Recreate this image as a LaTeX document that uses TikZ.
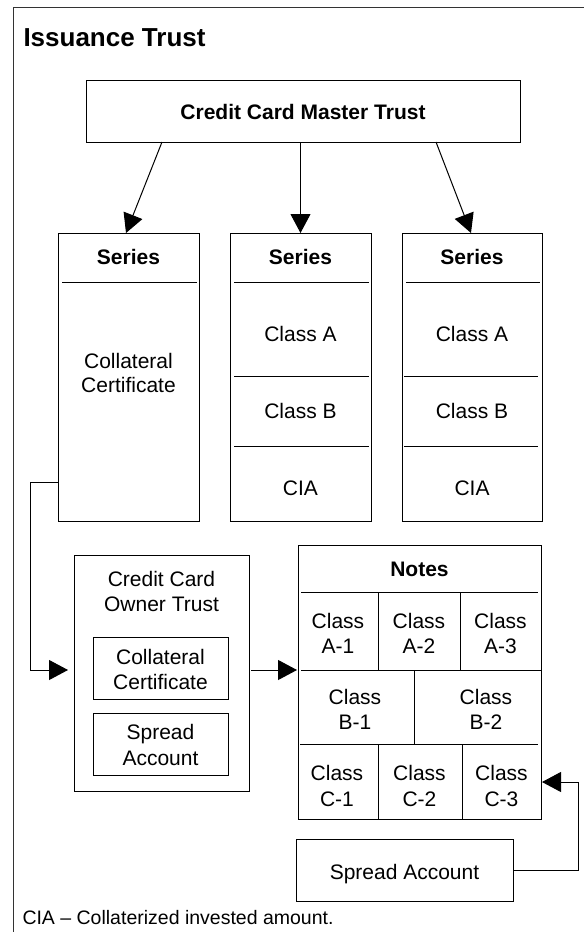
\documentclass[tikz,border=0pt]{standalone}
\usepackage{fontspec}
\setmainfont{Liberation Sans}
\usetikzlibrary{arrows.meta,fit}
\begin{document}
\begin{tikzpicture}[x=1pt,y=-1pt,line width=1pt,
  box/.style={draw,inner sep=0pt,outer sep=0pt},
  txt/.style={anchor=base,inner sep=0pt,font=\fontsize{21}{25}\selectfont},
  btxt/.style={anchor=base,inner sep=0pt,font=\fontsize{21}{25}\selectfont\bfseries},
  arr/.style={-{Triangle[length=19pt,width=20pt]}}]
\useasboundingbox (0,0) rectangle (584,932);
% frame
\draw[line width=1.2pt,black!80] (13.5,932) -- (13.5,7.5) -- (584,7.5);
\node[anchor=base west,inner sep=0pt,font=\fontsize{26}{30}\selectfont\bfseries] (title) at (23,46) {Issuance Trust};
% master trust
\node[box,fit={(86,80) (520,142)}] (master) {};
\node[btxt] (tmaster) at (303,119) {Credit Card Master Trust};
% series boxes
\node[box,fit={(58,233) (199,521)}] (s1) {};
\node[box,fit={(230,233) (371,521)}] (s2) {};
\node[box,fit={(402,233) (542,521)}] (s3) {};
\foreach \n/\x in {s1/128.5,s2/300.5,s3/472}{
  \node[btxt] (\n-h) at (\x,264) {Series};
}
\draw (62,282) -- (197,282);
\draw (234,282) -- (369,282);
\draw (406,282) -- (540,282);
\node[txt] (s1-a) at (128.5,368) {Collateral};
\node[txt] (s1-b) at (128.5,392) {Certificate};
\foreach \n/\x/\l/\r in {s2/300.5/234/369,s3/472/404/538}{
  \node[txt] (\n-ca) at (\x,341) {Class A};
  \draw (\l,376) -- (\r,376);
  \node[txt] (\n-cb) at (\x,418) {Class B};
  \draw (\l,446) -- (\r,446);
  \node[txt] (\n-cia) at (\x,495) {CIA};
}
% arrows from master
\draw[arr] ([xshift=76pt]master.south west) -- ([xshift=68pt]s1.north west);
\draw[arr] (s2.north |- master.south) -- (s2.north);
\draw[arr] ([xshift=350pt]master.south west) -- ([xshift=69pt]s3.north west);
% owner trust
\node[box,fit={(74,555) (249,791)}] (owner) {};
\node[txt] (ow-a) at (161.5,586) {Credit Card};
\node[txt] (ow-b) at (161.5,611) {Owner Trust};
\node[box,fit={(93,637) (228,699)}] (occ) {};
\node[txt] (occ-a) at (160.5,664) {Collateral};
\node[txt] (occ-b) at (160.5,689) {Certificate};
\node[box,fit={(93,713) (228,775)}] (osa) {};
\node[txt] (osa-a) at (160.5,739) {Spread};
\node[txt] (osa-b) at (160.5,765) {Account};
% notes
\node[box,fit={(298,545) (541,819)}] (notes) {};
\node[btxt] (notes-h) at (419.5,576) {Notes};
\draw (301,592) -- (538,592);
\draw (301,670) -- (541,670);
\draw (300,744) -- (538,744);
\draw (378,592) -- (378,670);
\draw (460,592) -- (460,670);
\draw (414,670) -- (414,744);
\draw (378,744) -- (378,819);
\draw (462,744) -- (462,819);
\foreach \n/\x/\lab in {a1/338/A-1,a2/419/A-2,a3/500.5/A-3}{
  \node[txt] (\n-c) at (\x,628) {Class};
  \node[txt] (\n-l) at (\x,653) {\lab};
}
\foreach \n/\x/\lab in {b1/355/B-1,b2/486/B-2}{
  \node[txt] (\n-c) at (\x,704) {Class};
  \node[txt] (\n-l) at (\x,729) {\lab};
}
\foreach \n/\x/\lab in {c1/337/C-1,c2/419.5/C-2,c3/501.5/C-3}{
  \node[txt] (\n-c) at (\x,780) {Class};
  \node[txt] (\n-l) at (\x,806) {\lab};
}
\coordinate (c3in) at (542,782);
\coordinate (ownin) at (68,670);
% spread account
\node[box,fit={(296,839) (513,901)}] (sa) {};
\node[txt] (sa-t) at (404.5,879) {Spread Account};
% connectors
\draw[arr] ([yshift=-105pt]s1.west) -- ++(-28pt,0) |- (ownin);
\draw[arr] ([xshift=2pt]owner.east |- ownin) -- ([xshift=-1pt]notes.west |- ownin);
\draw[arr] (sa.east) -- ++(65pt,0) |- (c3in);
% footnote
\node[anchor=base west,inner sep=0pt,font=\fontsize{19.5}{23}\selectfont] (foot) at (22,924) {CIA – Collaterized invested amount.};
\end{tikzpicture}
\end{document}
